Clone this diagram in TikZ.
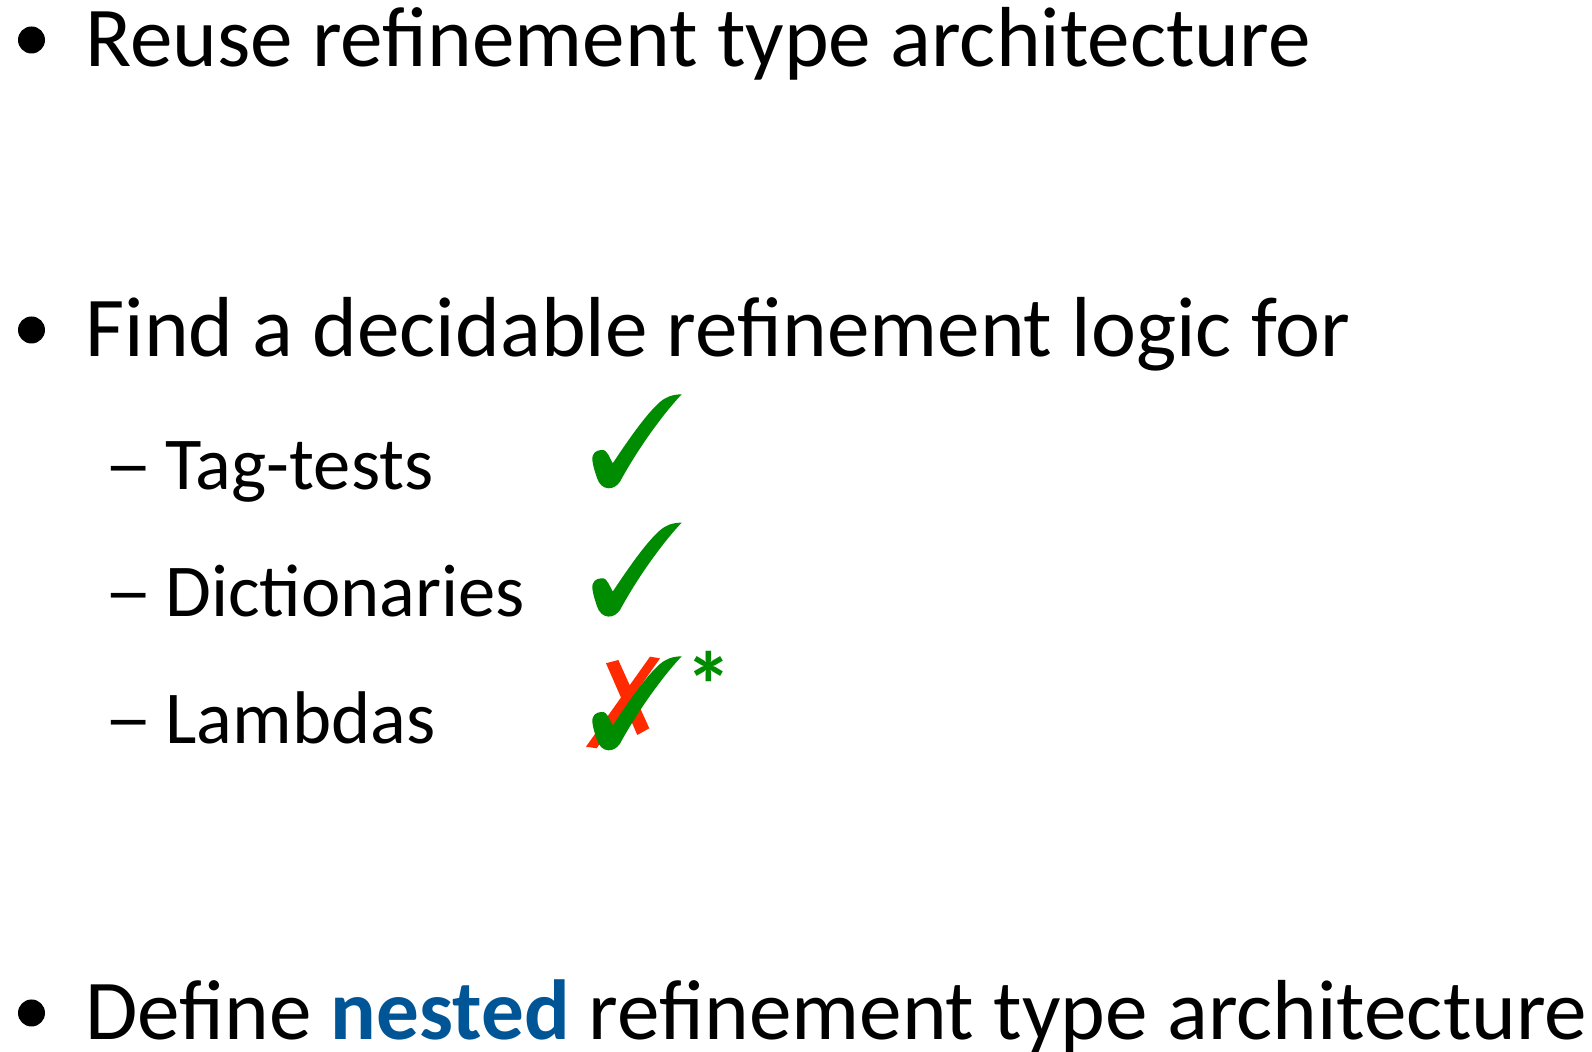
\documentclass[tikz,border=0pt]{standalone}
\usepackage{fontspec}
\setmainfont{Carlito}
\definecolor{ckgreen}{RGB}{0,140,0}
\definecolor{xred}{RGB}{255,42,0}
\definecolor{nblue}{RGB}{0,85,150}
\tikzset{
  main/.style={anchor=base west,inner sep=0pt,font=\fontsize{42.6}{50}\selectfont},
  sub/.style={anchor=base west,inner sep=0pt,font=\fontsize{37.3}{44}\selectfont},
  subdash/.style={anchor=base west,inner sep=0pt,font=\fontsize{37.3}{44}\selectfont},
  bul/.style={fill=black,draw=none},
  ckfill/.style={fill=ckgreen,draw=none},
  xfill/.style={fill=xred,draw=none},
  pics/chk/.style={code={
    \path[ckfill] (32.3,80) .. controls (32,73) and (36,70.5) .. (41,70)
      .. controls (45,69.5) and (47,72) .. (48.5,75) -- (52.7,83.3)
      .. controls (65,65) and (85,35) .. (100,22)
      .. controls (106,17) and (112,14.5) .. (121.7,14.3)
      .. controls (105,32) and (80,65) .. (60,101.7)
      .. controls (57,106) and (53,108.5) .. (48.3,108.3)
      .. controls (43,108) and (39,104) .. (37,98)
      .. controls (35,92) and (33,86) .. (32.3,80) -- cycle;
  }},
  pics/xmark/.style={code={
    \path[xfill] (46,21.3) -- (58.3,18) -- (89.3,86.3) -- (77.3,93) -- cycle;
    \path[xfill] (26,104.7) -- (90,14.7) -- (100,16.3) -- (36.7,106.3) -- cycle;
  }}
}
\begin{document}
\begin{tikzpicture}[x=0.5pt,y=-0.5pt]
\useasboundingbox (0,0) rectangle (1592,1052);
% bullets
\fill[bul] (31.5,40) circle (13.5);
\fill[bul] (31.5,330) circle (13.5);
\fill[bul] (31.5,1013) circle (13.5);
% main lines
\node[main] (l1) at (85,67) {Reuse refinement type architecture};
\node[main] (l2) at (85,357) {Find a decidable refinement logic for};
\node[main] (l3) at (85,1040) {Define {\bfseries\color{nblue}nested} refinement type architecture};
% sub items
\node[subdash] (d1) at (104,490) {\scalebox{1.3}[1]{–}};
\node[sub] (s1) at (165,490) {Tag-tests};
\node[subdash] (d2) at (104,617) {\scalebox{1.3}[1]{–}};
\node[sub] (s2) at (165,617) {Dictionaries};
\node[subdash] (d3) at (104,744) {\scalebox{1.3}[1]{–}};
\node[sub] (s3) at (165,744) {Lambdas};
% marks
\pic (c1) at (560,380) {chk};
\pic (c2) at (560,508.3) {chk};
\pic (x3) at (560,642) {xmark};
\pic (c3) at (560,642) {chk};
\node[anchor=center,inner sep=0pt,text=ckgreen,font=\fontsize{47}{47}\selectfont\bfseries] (ast) at (708.5,685) {*};
\end{tikzpicture}
\end{document}
